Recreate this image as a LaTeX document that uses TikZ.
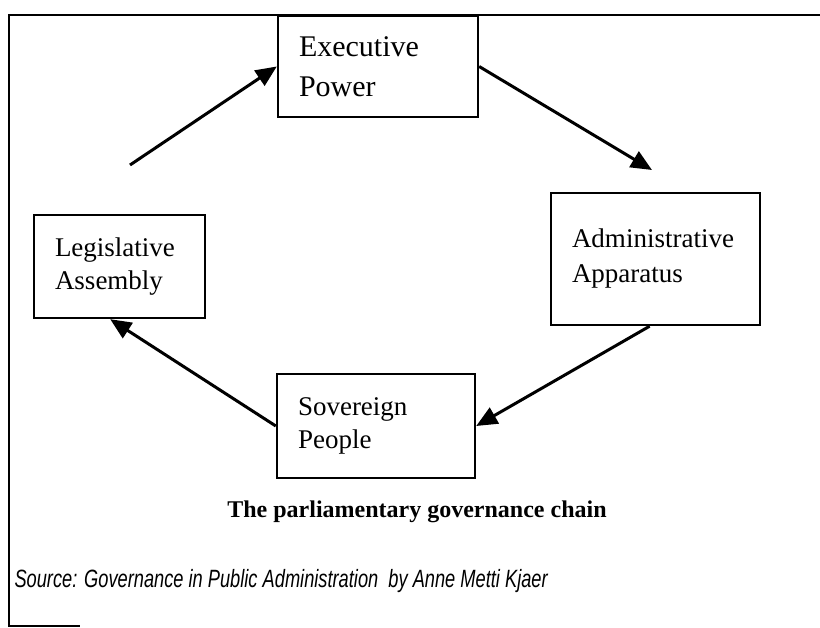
\documentclass[tikz,border=0pt]{standalone}
\usepackage{fontspec}
\setmainfont{Liberation Serif}
\newfontfamily\srcfont[FakeStretch=0.73]{Liberation Sans}
\usetikzlibrary{arrows.meta,positioning}

\tikzset{
    chainbox/.style={draw, line width=2.4pt, align=left, inner xsep=21pt,
        font=\fontsize{27}{33}\selectfont},
    chainarrow/.style={line width=3pt, -{Triangle[length=21pt,width=18pt]}}
}

\begin{document}
\begin{tikzpicture}[x=1pt,y=-1pt]
    \useasboundingbox (0,0) rectangle (820,628);

    % Frame
    \draw[line width=2.4pt] (820,15) -- (9,15) -- (9,626) -- (80,626);

    % Boxes of the chain
    \node[chainbox, text width=158pt, minimum height=101pt, font=\fontsize{30}{40}\selectfont]
        (exec) at (378,66.5) {Executive\\Power};
    \node[chainbox, text width=129pt, minimum height=103pt]
        (legis) at (119.5,266.5) {Legislative\\Assembly};
    \node[chainbox, text width=167pt, minimum height=132pt, font=\fontsize{27}{35}\selectfont]
        (admin) at (655.5,259) {Administrative\\Apparatus};
    \node[chainbox, text width=156pt, minimum height=104pt]
        (people) at (376,426) {Sovereign\\People};

    % Free ends of the two upper arrows
    \coordinate (legisout) at (130,165);
    \coordinate (adminin) at (652,170);

    % Arrows
    \draw[chainarrow] (legisout) -- (exec.west);
    \draw[chainarrow] (exec.east) -- (adminin);
    \draw[chainarrow] (admin.265) -- (people.east);
    \draw[chainarrow] (people.west) -- (legis.260);

    % Caption
    \node[font=\bfseries\fontsize{24}{28}\selectfont] (title) at (417,512)
        {The parliamentary governance chain};
    \node[anchor=west, font=\srcfont\itshape\fontsize{25}{30}\selectfont] (source) at (11,581)
        {Source: Governance in Public Administration\ \ by Anne Metti Kjaer};
\end{tikzpicture}
\end{document}
